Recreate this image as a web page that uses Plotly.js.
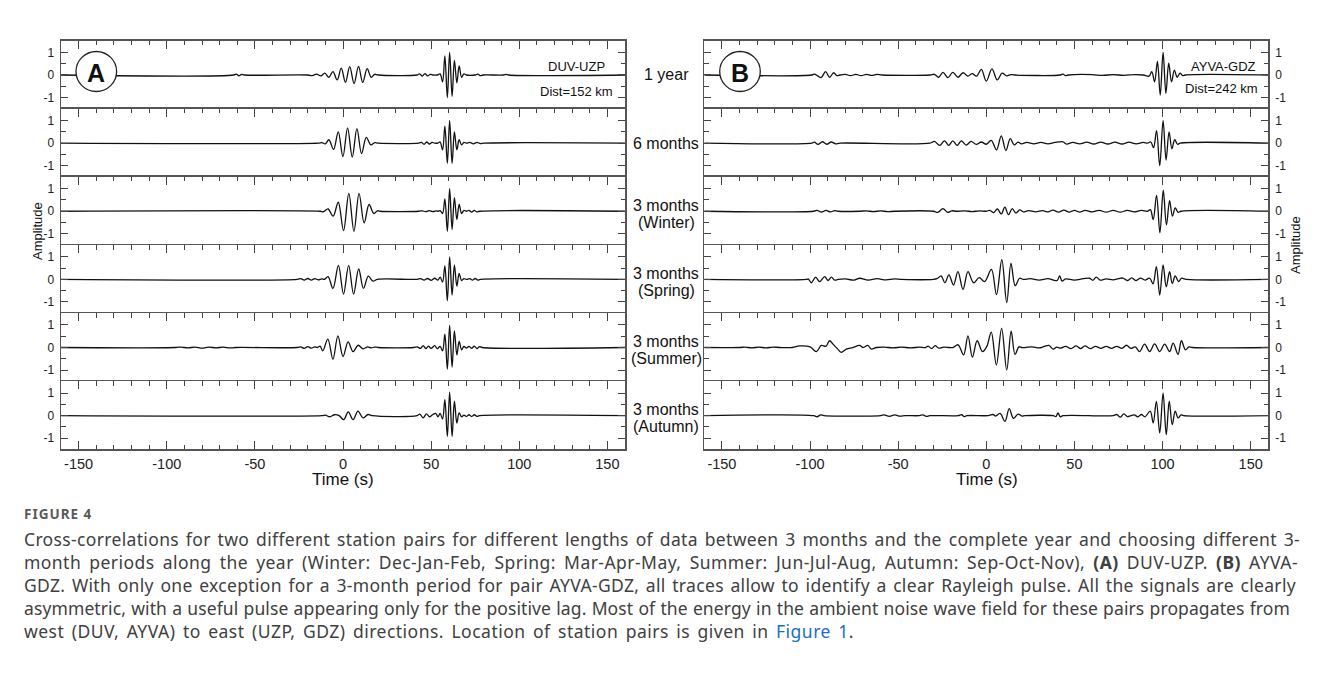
<!DOCTYPE html>
<html><head><meta charset="utf-8">
<script src="https://cdn.plot.ly/plotly-3.0.1.min.js"></script>
<style>
body{margin:0;background:#fff;width:1326px;height:678px;overflow:hidden;position:relative;font-family:'Noto Sans',sans-serif}
#topline{position:absolute;left:0;top:2px;width:1326px;height:1px;background:#dcdcdc}
#chart{position:absolute;left:0;top:0;width:1326px;height:490px}
#figlabel{position:absolute;left:24px;top:505px;font-weight:700;font-size:13.5px;color:#5a5a5a;letter-spacing:1px;line-height:18px}
#caption{position:absolute;left:24px;top:528px;font-size:17.5px;line-height:23px;color:#404040}
#caption div{white-space:nowrap;height:23px}
#caption span.l{display:inline-block;white-space:nowrap}
#caption a{color:#1a6fc9;text-decoration:none}
</style></head>
<body>
<div id="topline"></div>
<div id="chart"></div>
<div id="figlabel">FIGURE 4</div>
<div id="caption">
<div><span class="l" data-w="1276">Cross-correlations for two different station pairs for different lengths of data between 3 months and the complete year and choosing different 3-</span></div>
<div><span class="l" data-w="1274">month periods along the year (Winter: Dec-Jan-Feb, Spring: Mar-Apr-May, Summer: Jun-Jul-Aug, Autumn: Sep-Oct-Nov), <b>(A)</b> DUV-UZP. <b>(B)</b> AYVA-</span></div>
<div><span class="l" data-w="1272">GDZ. With only one exception for a 3-month period for pair AYVA-GDZ, all traces allow to identify a clear Rayleigh pulse. All the signals are clearly</span></div>
<div><span class="l" data-w="1266">asymmetric, with a useful pulse appearing only for the positive lag. Most of the energy in the ambient noise wave field for these pairs propagates from</span></div>
<div><span class="l" data-w="830">west (DUV, AYVA) to east (UZP, GDZ) directions. Location of station pairs is given in <a>Figure 1</a>.</span></div>
</div>
<script>
// ---------- DATA (time lag s, normalised amplitude) ----------
const rowLabels = [["1 year"],["6 months"],["3 months","(Winter)"],["3 months","(Spring)"],["3 months","(Summer)"],["3 months","(Autumn)"]];
const xTickVals = [-150,-100,-50,0,50,100,150];
const xTickText = ["-150","-100","-50","0","50","100","150"];
const yTickVals = [-1,0,1];
const yTickText = ["-1","0","1"];
const pairA = {name:"DUV-UZP", dist:"Dist=152 km"};
const pairB = {name:"AYVA-GDZ", dist:"Dist=242 km"};

const A_1year = [[-160,0],[-62,0],[-60.5,0.04],[-59,-0.04],[-57.5,0.03],[-56,0],
 [-20,0],[-17.5,-0.03],[-15,0.04],[-12.6,-0.04],[-10.3,0.08],[-8,-0.1],[-5.7,0.15],[-3.3,-0.22],[-1,0.3],[1.4,-0.33],[3.8,0.37],[6.3,-0.38],[8.8,0.38],[11.2,-0.33],[13.7,0.28],[16,-0.1],[18,0.03],[20,0],
 [42,0],[43.5,0.05],[45,-0.05],[46.5,0.06],[48,-0.04],[49.5,0.03],[51,0],[53.5,0],
 [55.1,0.05],[56.5,-0.3],[57.8,0.85],[59.2,-1.0],[60.5,1.0],[61.9,-0.95],[63.2,0.65],[64.6,-0.35],[65.9,0.4],[67.3,-0.1],[68.6,0.05],[70,0],
 [75,0],[76.5,0.04],[78,-0.03],[79.5,0],[91,0],[92.5,0.03],[94,0],[160,0]];
const A_6months = [[-160,0],[-14,0],[-12,0.02],[-10,-0.03],[-8,0.15],[-5.35,-0.28],[-2.7,0.5],[-0.05,-0.6],[2.6,0.68],[5.25,-0.62],[7.9,0.64],[10.55,-0.47],[13.2,0.25],[15.85,-0.08],[18,0.02],[20,0],
 [43,0],[44.5,0.03],[46,-0.05],[47.5,0.05],[49,-0.04],[50.5,0.03],[52,0],[53.8,0],
 [55.1,0.05],[56.5,-0.3],[57.8,0.75],[59.2,-0.9],[60.5,1.0],[61.9,-0.9],[63.2,0.5],[64.6,-0.3],[65.9,0.15],[67.3,-0.08],[68.6,0.03],[70,0],
 [72,0.03],[74,-0.03],[76,0.03],[78,-0.02],[80,0],[160,0]];
const A_winter = [[-160,0],[-13,0],[-11,-0.02],[-8.5,0.1],[-5.6,-0.22],[-2.7,0.4],[0.3,-0.86],[3.3,0.79],[6.2,-0.89],[9.1,0.79],[12.0,-0.52],[14.8,0.3],[17.5,-0.1],[19.5,0.02],[21,0],
 [43,0],[45,0.02],[47,-0.02],[49,0.03],[51,-0.02],[53,0.02],[54,0],
 [55.1,0.03],[56.5,-0.1],[57.8,0.55],[59.2,-0.89],[60.5,1.0],[61.9,-0.81],[63.2,0.6],[64.6,-0.37],[65.9,0.3],[67.3,-0.1],[68.6,0.04],[70,0],
 [71.5,0.04],[73,-0.04],[74.5,0.04],[76,-0.03],[77.5,0],[160,0]];
const A_spring = [[-160,0],[-26,0],[-24,0.03],[-22,-0.03],[-20,0.04],[-18,-0.03],[-16,0.03],[-14,-0.02],[-12,0.02],[-10.5,0],
 [-8.5,0.12],[-5.7,-0.4],[-2.6,0.62],[0.3,-0.65],[3.2,0.62],[6.0,-0.65],[8.9,0.46],[11.6,-0.4],[14.4,0.14],[17,-0.08],[19.5,0],
 [42,0],[44,0.03],[46,-0.03],[48,0.04],[50,-0.04],[52,0.05],[53.8,-0.03],
 [55.1,0.1],[56.5,-0.12],[57.8,0.6],[59.2,-0.95],[60.5,1.0],[61.9,-0.7],[63.2,0.64],[64.6,-0.3],[65.9,0.27],[67.3,-0.05],[68.6,0.03],[70,0],
 [72,0.03],[73.5,-0.03],[75,0.04],[76.5,-0.03],[78,0],[160,0]];
const A_summer = [[-160,0],[-95,0],[-92,0.02],[-88,-0.02],[-84,0.02],[-80,-0.03],[-76,0.02],[-72,-0.02],[-68,0.02],[-64,-0.02],[-61,0],
 [-26,0],[-24,0.03],[-22,-0.04],[-20,0.04],[-18,-0.03],[-16,0.03],[-14.5,0],[-13,0.06],[-11.5,-0.15],[-8.6,0.37],[-5.7,-0.52],[-2.9,0.52],[0,-0.4],[2.9,0.25],[5.7,-0.18],[8.6,0.1],[11.4,-0.06],[14,0.03],[16,-0.02],[18,0.02],[20,0],
 [40,0],[42,0.03],[44,-0.04],[45.5,0.08],[47,-0.05],[48.5,0.06],[50,-0.04],[52,0.08],[53.5,-0.05],
 [55.1,0.05],[56.5,-0.15],[57.8,0.59],[59.2,-0.96],[60.5,0.98],[61.9,-0.87],[63.2,0.74],[64.6,-0.33],[65.9,0.27],[67.3,-0.1],[68.6,0.05],
 [70,-0.03],[71.5,0.05],[73,-0.04],[74.5,0.06],[76,-0.05],[77.5,0.04],[79,0],[160,0]];
const A_autumn = [[-160,0],[-12,0],[-10,0.02],[-7.5,-0.05],[-4.8,0.04],[-2.2,0],[0.4,-0.18],[3,0.17],[5.7,-0.18],[8.5,0.2],[11.3,-0.1],[14.2,0.05],[16.5,0],
 [42,0],[43.6,0.07],[45.5,-0.1],[47.3,0.08],[49.2,-0.05],[51,0.05],[52.6,0.1],[53.9,-0.05],
 [55.1,0.1],[56.5,-0.15],[57.8,0.71],[59.2,-0.92],[60.5,1.04],[61.9,-0.92],[63.2,0.64],[64.6,-0.33],[65.9,0.12],[67.3,-0.05],[68.6,0.02],
 [70,-0.04],[71.5,0.04],[73,-0.04],[74.5,0.04],[76,-0.03],[77.5,0],[160,0]];

const B_1year = [[-160,0],[-99,0],[-97.5,0.04],[-95.5,-0.05],[-93.7,-0.12],[-91.2,0.15],[-88.9,-0.1],[-86.6,0.1],[-84.8,-0.03],[-83,0],
 [-80,0.03],[-77,-0.03],[-74,0.03],[-71,-0.03],[-68,0.03],[-65,-0.02],[-62,0.03],[-59,0],
 [-32,0],[-29.5,0.03],[-27,-0.1],[-24.6,0.12],[-21.8,-0.12],[-19,0.12],[-16.1,-0.1],[-13.2,0.1],[-10.5,-0.05],[-8,0.06],[-5.5,-0.05],[-2.8,0.25],[0,-0.27],[3.2,0.27],[6.2,-0.22],[9,0.08],[11.5,-0.04],[14,0.02],[16,0],
 [42,0],[43.5,0.04],[45,-0.03],[46.5,0],[60,0.02],[66,-0.02],[72,0.02],[78,-0.02],[84,0.02],[89,0],
 [92.3,-0.05],[93.9,0.15],[95.5,-0.3],[97.1,0.6],[98.7,-0.89],[100.3,1.0],[101.9,-0.81],[103.5,0.52],[105.1,-0.3],[106.7,0.22],[108.3,-0.1],[109.9,0.08],[111.5,-0.03],[113,0],[160,0]];
const B_6months = [[-160,0],[-99,0],[-97.5,0.04],[-95.5,-0.06],[-93,0.06],[-90.5,-0.05],[-88,0.05],[-85.5,-0.03],[-83,0],
 [-32,0],[-29.4,0.08],[-26.5,-0.1],[-23.7,0.1],[-21.3,-0.1],[-19,0.1],[-16.5,-0.1],[-14.2,0.1],[-11.4,-0.09],[-8.6,0.08],[-5.7,-0.06],[-2.8,0.05],[0,-0.05],[2.8,0.12],[5.8,-0.3],[8.5,0.32],[11.1,-0.33],[13.6,0.2],[15.8,-0.08],[18,0.04],[20,-0.03],
 [23,0.03],[27,-0.03],[31,0.03],[35,-0.03],[39,0.03],[43.5,0.06],[45.5,-0.04],[49,0.03],[53,-0.03],[57,0.04],[61,-0.04],[65,0.04],[69,-0.04],[73,0.04],[77,-0.04],[81,0.04],[85,-0.03],[89,0.03],[91.5,0],
 [93.3,0.05],[94.9,-0.2],[96.6,0.55],[98.4,-1.0],[100.3,1.0],[102.0,-0.75],[103.7,0.5],[105.3,-0.25],[106.9,0.15],[108.5,-0.05],[110,0],[160,0]];
const B_winter = [[-160,0],[-98,0],[-96,0.04],[-93.5,-0.04],[-91,0.04],[-88.5,-0.03],[-86,0.03],[-84,0],
 [-72,0],[-68,0.02],[-64,-0.02],[-60,0.02],[-56,-0.02],[-52,0],
 [-30,0],[-27.5,-0.05],[-24.6,0.12],[-22,-0.05],[-19.5,0.02],[-17,0],[-12,0.02],[-8,-0.02],[-4,0.02],[0,0],
 [2,0.04],[4.2,-0.06],[6.3,0.1],[8.5,-0.12],[10.5,0.18],[12.6,-0.15],[14.7,0.12],[16.8,-0.08],[19,0.06],[21,-0.03],
 [24,0.03],[28,-0.03],[32,0.03],[35,-0.03],[37.8,0.05],[41,-0.04],[44,0.05],[47,-0.04],[50,0.04],[53,-0.04],[56,0.04],[60,-0.03],[64,0.04],[68,-0.04],[72,0.04],[76,-0.04],[80,0.04],[84,-0.03],[88,0.04],[91.5,0],
 [93.1,0.07],[94.7,-0.37],[96.6,0.7],[98.5,-0.96],[100.4,0.93],[102.2,-0.6],[104.0,0.47],[105.6,-0.22],[107.2,0.15],[108.8,-0.05],[110.5,0],[160,0]];
const B_spring = [[-160,0],[-102,0],[-101,0.02],[-99.3,-0.15],[-96.8,0.1],[-94.6,-0.1],[-91.7,0.12],[-89.8,-0.05],[-87.9,0.1],[-86,-0.03],[-84,0],
 [-80,0.02],[-75,-0.03],[-71.9,0.05],[-67.1,-0.03],[-62,0.03],[-57,-0.02],[-52,0.02],[-48,0],
 [-30,0],[-28,0.03],[-25.6,0.15],[-23.5,-0.15],[-21.2,0.2],[-18.6,-0.25],[-16.1,0.34],[-13.2,-0.44],[-10.4,0.34],[-7.2,-0.15],[-4,0.08],[-1,-0.1],
 [2.9,0.44],[5.8,-0.68],[8.8,0.87],[11.6,-1.03],[14.0,0.71],[16.4,-0.28],[18.9,0.05],[21,0],
 [25,0.03],[30,-0.03],[35,0.03],[38,-0.03],[40.2,-0.05],[41.6,0.15],[43,-0.08],[45,0.02],[50,-0.03],[55,0.03],[58.6,0.05],[60.5,-0.04],[62.4,0.1],[64.5,-0.03],[68,0.02],[72,-0.02],
 [75,0.03],[77.5,0.06],[80,-0.05],[82.5,0.07],[85,-0.05],[87.5,0.06],[90,-0.03],
 [92.7,0.05],[94.6,-0.2],[96.5,0.56],[98.4,-0.7],[100.3,0.64],[102.1,-0.33],[104,0.34],[105.5,-0.18],[107.2,0.15],[109.1,-0.1],[110.7,0.05],[113.5,0],[160,0]];
const B_summer = [[-160,0],[-140,0],[-137,0.02],[-133,-0.02],[-129,0.02],[-125,-0.02],[-121,0.02],[-117,0],[-110,0],
 [-105.9,0.07],[-100,0.03],[-96.4,-0.18],[-93.6,0.09],[-91,0.05],[-88.9,0.3],[-87,0.15],[-84.5,-0.05],[-82.3,-0.22],[-79.4,-0.07],[-75.7,0],[-71.9,0.09],[-70,0],[-67.2,0.09],[-65.3,-0.07],[-62.4,0],
 [-58,0.02],[-53,-0.02],[-48,0.02],[-43,-0.02],[-38,0.02],[-34.5,0],[-33,0.06],[-31,-0.05],[-29,0.08],[-27,-0.03],[-24,0.02],[-21,0],[-19,0],
 [-16,0.12],[-12.9,-0.33],[-10.4,0.52],[-7.9,-0.43],[-5.2,0.3],[-2.2,-0.18],[0.3,0.05],
 [2.8,0.68],[5.7,-0.77],[8.7,0.85],[11.6,-1.0],[14.1,0.72],[16.3,-0.3],[18.5,0.03],[20,0],
 [22,0],[26,0.03],[30,-0.02],[33,0.05],[35.5,0.09],[38,-0.07],[40,0.02],[42,-0.03],[45,0.05],[48,-0.05],[51,0.07],[53.5,-0.05],[56,0.07],[59,-0.05],[62,0.05],[65,-0.04],[68,0.05],[71,-0.04],[74,0.05],[77,-0.04],[79.5,0.1],[82,-0.04],[84.5,0.03],
 [87,-0.18],[89.8,0.15],[92.7,-0.18],[95.5,0.16],[98.4,-0.18],[101.2,0.15],[104,-0.18],[106,0.19],[108.8,-0.3],[110.7,0.3],[113,-0.1],[115,0.03],[117,0],[160,0]];
const B_autumn = [[-160,0],[-98,0],[-96,-0.05],[-94,0.03],[-92,0],[-60,0],[-58,0.03],[-55,-0.03],[-52,0.03],[-49,-0.02],[-46,0],
 [-38,0],[-36,0.03],[-34,-0.03],[-32,0],[-16,0],[-14,0.04],[-12.5,-0.04],[-11,0],
 [1,0],[3.8,0.05],[5.3,-0.02],[7.8,0.1],[10.6,-0.25],[13,0.31],[15.4,-0.12],[18,0.07],[20.2,-0.02],[22,0],
 [38,0],[39.5,-0.04],[40.7,0.12],[42,-0.05],[43.5,0],[72,0],[74,0.05],[76,-0.07],[78,0.08],[80,-0.04],[82,0],[84,0.03],[86,-0.05],[88,0.05],[90,-0.05],
 [93.0,0.2],[94.7,-0.33],[96.5,0.63],[98.4,-0.77],[100.3,1.0],[102.1,-0.84],[103.8,0.64],[105.5,-0.4],[107.2,0.2],[108.8,-0.1],[110.5,0.03],[112,0],[160,0]];

const panelA = [A_1year, A_6months, A_winter, A_spring, A_summer, A_autumn];
const panelB = [B_1year, B_6months, B_winter, B_spring, B_summer, B_autumn];

// ---------- caption line fitting (split extra width between letters and words) ----------
document.querySelectorAll('#caption span.l').forEach(s => {
  const target = +s.dataset.w, w = s.getBoundingClientRect().width;
  const txt = s.textContent, n = txt.length, nw = (txt.match(/ /g) || []).length;
  const extra = target - w;
  const ls = extra * 0.55 / n, ws = extra * 0.45 / Math.max(nw, 1);
  s.style.letterSpacing = ls.toFixed(3) + 'px';
  s.style.wordSpacing = ws.toFixed(3) + 'px';
});

// ---------- LAYOUT GEOMETRY ----------
const W = 1326, H = 490;
const colX = [[61, 625], [704.3, 1268.3]];
const rowTop = 40.7, rowH = 68.13;
const yRange = [-1.5, 1.52];
const fx = p => p / W, fy = p => 1 - p / H;
const FONT = "'Liberation Sans', Arial, Helvetica, sans-serif";
const INK = '#111', FRAME = '#555';

const traces = [], layout = {
  width: W, height: H, margin: {l:0, r:0, t:0, b:0},
  paper_bgcolor: '#fff', plot_bgcolor: 'rgba(0,0,0,0)',
  showlegend: false, font: {family: FONT, color: '#222'},
  annotations: [], shapes: []
};

[panelA, panelB].forEach((panel, p) => {
  panel.forEach((data, r) => {
    const k = p * 6 + r + 1;
    const xn = 'x' + k, yn = 'y' + k;
    traces.push({
      type: 'scatter', mode: 'lines', xaxis: xn, yaxis: yn,
      x: data.map(d => d[0]), y: data.map(d => d[1]),
      line: {color: INK, width: 1.3, shape: 'spline', smoothing: 1},
      hoverinfo: 'skip', cliponaxis: true
    });
    const top = rowTop + r * rowH, bot = top + rowH;
    const last = r === 5;
    layout['xaxis' + k] = {
      domain: [fx(colX[p][0]), fx(colX[p][1])], anchor: yn,
      range: [-160, 160], side: last ? 'bottom' : 'top',
      tickmode: 'array', tickvals: xTickVals, ticktext: xTickText,
      ticks: 'inside', ticklen: 8, tickwidth: 1, tickcolor: '#444',
      minor: {tickmode: 'linear', tick0: -160, dtick: 10, ticks: 'inside', ticklen: 4.5, tickwidth: 1, tickcolor: '#444', showgrid: false},
      showticklabels: last, tickfont: {size: 14.5, family: FONT, color: '#222'},
      ticklabelstandoff: 1,
      showline: true, linecolor: FRAME, linewidth: 1.5, mirror: last ? 'ticks' : false,
      showgrid: false, zeroline: false, fixedrange: true
    };
    layout['yaxis' + k] = {
      domain: [fy(bot), fy(top)], anchor: xn, range: yRange,
      side: p === 0 ? 'left' : 'right',
      tickmode: 'array', tickvals: yTickVals, ticktext: yTickText,
      ticks: 'inside', ticklen: 7, tickwidth: 1, tickcolor: '#444',
      minor: {tickmode: 'linear', tick0: 0, dtick: 0.5, ticks: 'inside', ticklen: 4.5, tickwidth: 1, tickcolor: '#444', showgrid: false},
      showticklabels: true, tickfont: {size: 12, family: FONT, color: '#222'},
      ticklabelstandoff: 3,
      showline: true, linecolor: FRAME, linewidth: 1.5, mirror: 'ticks',
      showgrid: false, zeroline: false, fixedrange: true
    };
  });
});

const ann = (x, y, text, o = {}) => layout.annotations.push(Object.assign({
  xref: 'paper', yref: 'paper', x: fx(x), y: fy(y), text, showarrow: false,
  xanchor: 'center', yanchor: 'middle', font: {family: FONT, size: 16, color: '#111'}
}, o));

rowLabels.forEach((lines, r) => {
  const zeroY = rowTop + r * rowH + rowH * (yRange[1] / (yRange[1] - yRange[0]));
  if (lines.length === 1) ann(666, zeroY, lines[0]);
  else { ann(666, zeroY - 6, lines[0]); ann(666, zeroY + 11, lines[1]); }
});
ann(607, 66.5, pairA.name, {xanchor: 'right', font: {family: FONT, size: 13, color: '#111'}});
ann(615, 91, pairA.dist, {xanchor: 'right', font: {family: FONT, size: 13, color: '#111'}});
ann(1258, 67, pairB.name, {xanchor: 'right', font: {family: FONT, size: 13, color: '#111'}});
ann(1260, 89, pairB.dist, {xanchor: 'right', font: {family: FONT, size: 13, color: '#111'}});
ann(343, 479.5, 'Time (s)', {font: {family: FONT, size: 17, color: '#111'}});
ann(986.7, 479.5, 'Time (s)', {font: {family: FONT, size: 17, color: '#111'}});
ann(37, 231, 'Amplitude', {textangle: -90, font: {family: FONT, size: 13, color: '#111'}});
ann(1295, 245, 'Amplitude', {textangle: -90, font: {family: FONT, size: 13, color: '#111'}});
[[96.3, 71.5, 'A'], [740, 71.5, 'B']].forEach(([cx, cy, t]) => {
  layout.shapes.push({type: 'circle', xref: 'paper', yref: 'paper',
    x0: fx(cx - 20.3), x1: fx(cx + 20.3), y0: fy(cy + 20), y1: fy(cy - 20),
    line: {color: '#222', width: 1.3}, fillcolor: '#fff', layer: 'above'});
  ann(cx, cy + 1, '<b>' + t + '</b>', {font: {family: FONT, size: 25, color: '#111'}});
});

Plotly.newPlot('chart', traces, layout, {displayModeBar: false, staticPlot: true});
</script>
</body></html>
